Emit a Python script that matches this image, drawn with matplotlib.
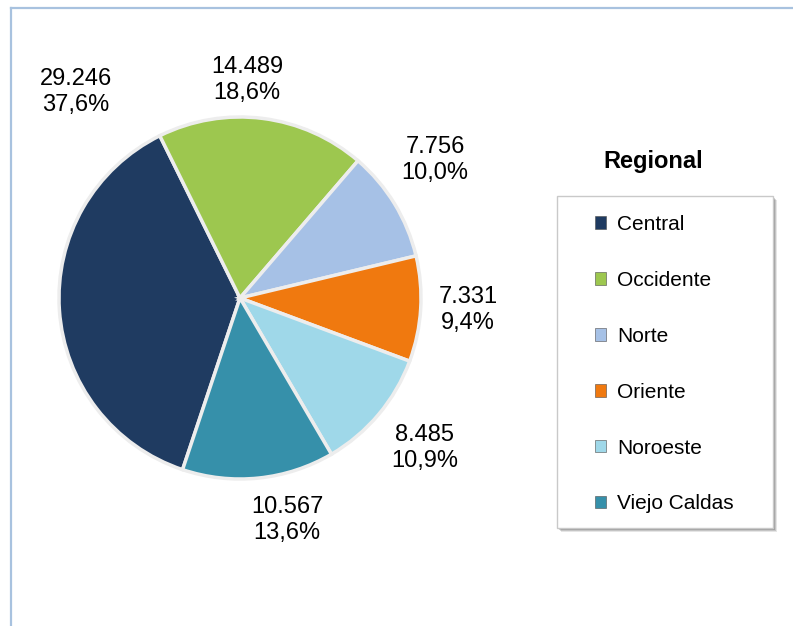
import matplotlib

matplotlib.use("Agg")
import matplotlib.pyplot as plt
from matplotlib.lines import Line2D
from matplotlib.patches import Patch, Rectangle

# Regional distribution (Excel pie, first slice at ~198 deg, clockwise)
regions = ["Central", "Occidente", "Norte", "Oriente", "Noroeste", "Viejo Caldas"]
counts = [29246, 14489, 7756, 7331, 8485, 10567]
colors = ["#1F3B61", "#9DC74F", "#A6C1E6", "#F0790F", "#9FD8E9", "#3690AA"]

# label block centres in image pixels (Excel "best fit" placement)
LABEL_XY = [(76, 92), (247, 80), (435, 160), (468, 310), (425, 448), (287, 520)]

W, H = 793, 626
plt.rcParams["font.family"] = ["Liberation Sans", "DejaVu Sans"]


def fx(px):
    return px / W


def fy(py):
    # image y (top-down) -> figure fraction
    return 1 - py / H


fig = plt.figure(figsize=(W / 100, H / 100), dpi=100)

# outer chart frame, only top and left edges are inside the crop
fig.add_artist(Line2D([fx(11), fx(11)], [0, fy(8)], color="#A8C2DF", lw=1.6,
                      transform=fig.transFigure))
fig.add_artist(Line2D([fx(11), 1], [fy(8), fy(8)], color="#A8C2DF", lw=1.6,
                      transform=fig.transFigure))

# pie in a square axes whose data units are pixels
cx, cy, R = 240, 298, 181
half = 230
ax = fig.add_axes([fx(cx - half), fy(cy + half), 2 * half / W, 2 * half / H])
wedges, _ = ax.pie(counts, colors=colors, radius=R, startangle=251.5,
                   counterclock=False,
                   wedgeprops=dict(edgecolor="#EDEDED", linewidth=2.5))
ax.set_xlim(-half, half)
ax.set_ylim(-half, half)
ax.axis("off")

total = sum(counts)
for v, (lx, ly) in zip(counts, LABEL_XY):
    pct = f"{v / total * 100:.1f}".replace(".", ",")
    num = f"{v:,}".replace(",", ".")
    fig.text(fx(lx), fy(ly), f"{num}\n{pct}%", ha="center", va="center",
             multialignment="center", fontsize=17, linespacing=1.22)

# legend box with a soft shadow, drawn separately from the entries
bx0, by0, bx1, by1 = 557, 196, 773, 528
for i, a in enumerate([0.10, 0.14, 0.18]):
    off = 4 - i
    fig.add_artist(Rectangle((fx(bx0 + off), fy(by1 + off)), (bx1 - bx0) / W,
                             (by1 - by0) / H, transform=fig.transFigure,
                             facecolor="black", alpha=a, edgecolor="none"))
fig.add_artist(Rectangle((fx(bx0), fy(by1)), (bx1 - bx0) / W, (by1 - by0) / H,
                         transform=fig.transFigure, facecolor="white",
                         edgecolor="#C9C9C9", lw=1.0))

handles = [Patch(facecolor=c, edgecolor="#4D4D4D", linewidth=0.4) for c in colors]
fig.legend(handles, regions, loc="upper left", bbox_to_anchor=(fx(595), fy(215)),
           frameon=False, fontsize=15, borderpad=0, borderaxespad=0,
           handlelength=0.55, handleheight=0.55, handletextpad=0.5,
           labelspacing=1.77)

fig.text(fx(653), fy(162), "Regional", ha="center", va="center", fontsize=17,
         fontweight="bold")

fig.savefig("out.png", dpi=100)
